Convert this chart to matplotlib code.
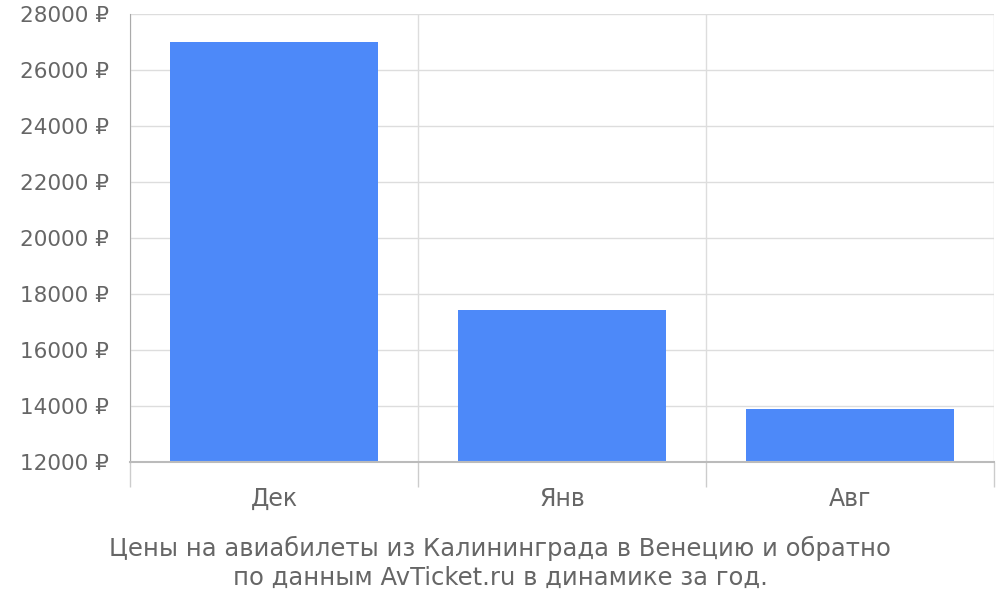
import matplotlib
matplotlib.use("Agg")
import matplotlib.pyplot as plt
from matplotlib.ticker import FixedLocator, NullFormatter

categories = ["Дек", "Янв", "Авг"]
prices = [27000, 17430, 13880]
yticks = [12000, 14000, 16000, 18000, 20000, 22000, 24000, 26000, 28000]
title = "Цены на авиабилеты из Калининграда в Венецию и обратно\nпо данным AvTicket.ru в динамике за год."

plt.rcParams['font.family'] = ['DejaVu Sans']
TEXT = '#666666'

fig = plt.figure(figsize=(10, 6), dpi=100)
ax = fig.add_axes([0.13, 0.23, 0.864, 0.7467])

x = list(range(len(categories)))
ax.bar(x, prices, width=0.72, color='#4d89f9', zorder=2)
ax.set_ylim(12000, 28000)
ax.set_xlim(-0.5, len(categories) - 0.5)

ax.set_yticks(yticks)
ax.set_yticklabels([f"{v} ₽" for v in yticks], color=TEXT, fontsize=15.5)
ax.tick_params(axis='y', length=0, pad=15)

bounds = [i - 0.5 for i in range(len(categories) + 1)]
ax.xaxis.set_major_locator(FixedLocator(bounds))
ax.xaxis.set_major_formatter(NullFormatter())
ax.set_xticks(x, minor=True)
ax.set_xticklabels(categories, minor=True, color=TEXT, fontsize=17)
ax.tick_params(axis='x', which='major', length=18, color='#cccccc', width=1)
ax.tick_params(axis='x', which='minor', length=0, pad=18)

ax.grid(True, axis='y', color='#dddddd', linewidth=1, zorder=0)
ax.grid(True, axis='x', which='major', color='#dddddd', linewidth=1, zorder=0)

for s in ['top', 'right']:
    ax.spines[s].set_visible(False)
ax.spines['left'].set_color('#aaaaaa')
ax.spines['bottom'].set_color('#bbbbbb')
ax.spines['bottom'].set_linewidth(1.5)

fig.text(0.5, 0.0617, title, ha='center', va='center', color=TEXT, fontsize=17.5, linespacing=1.25)

fig.savefig("out.png", dpi=100)
